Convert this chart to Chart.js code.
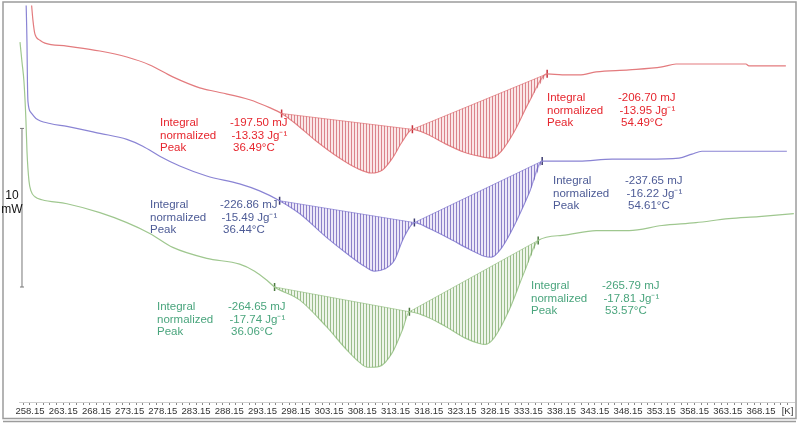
<!DOCTYPE html>
<html>
<head>
<meta charset="utf-8">
<script src="https://cdn.jsdelivr.net/npm/chart.js@4.4.1/dist/chart.umd.min.js"></script>
<style>
  html, body { margin: 0; padding: 0; background: #fff; }
  #wrap { width: 800px; height: 424px; position: relative; }
</style>
</head>
<body>
<div id="wrap"><canvas id="dsc" width="800" height="424"></canvas></div>
<script>
/* DSC thermogram — three runs, two endothermic peaks each */

/* ── Data (temperature in K, heat flow in mW, arbitrary offset) ───────── */

var redTemp  = [258.30, 258.60, 258.90, 259.65, 260.40, 263.71, 268.67, 272.73, 276.18, 279.64,
                283.69, 286.25, 291.21, 294.21, 296.02, 298.27, 301.27, 304.73, 307.29, 309.54,
                311.19, 312.69, 314.20, 315.70, 317.95, 320.51, 323.51, 325.77, 327.57, 329.07,
                331.03, 333.28, 335.98, 338.24, 340.79, 343.35, 348.31, 353.26, 355.37, 358.82,
                365.89, 366.34, 371.90];
var redFlow  = [25.50, 24.06, 23.19, 22.81, 22.63, 22.44, 22.13, 21.75, 21.25, 20.50,
                19.81, 19.56, 19.06, 18.56, 18.19, 17.50, 16.44, 15.38, 14.75, 14.44,
                14.63, 15.38, 16.44, 17.19, 16.88, 16.31, 15.75, 15.50, 15.38, 15.81,
                17.06, 18.94, 20.69, 20.63, 20.63, 20.81, 20.94, 21.13, 21.31, 21.31,
                21.31, 21.19, 21.19];

var blueTemp = [257.55, 257.70, 257.77, 257.85, 258.30, 259.05, 261.16, 263.71, 268.67, 272.73,
                275.13, 277.68, 280.69, 284.75, 289.70, 292.71, 295.72, 298.72, 302.78, 305.78,
                308.49, 309.99, 311.49, 312.99, 314.20, 315.25, 316.00, 318.25, 321.26, 324.26,
                326.52, 327.57, 329.07, 331.03, 333.28, 335.23, 337.34, 340.79, 345.75, 350.86,
                355.82, 357.77, 359.28, 372.05];
var blueFlow = [25.50, 22.69, 20.19, 18.94, 18.25, 17.88, 17.56, 17.38, 16.94, 16.56,
                16.13, 15.50, 14.88, 14.25, 13.75, 13.31, 12.69, 11.88, 10.38, 9.38,
                8.56, 8.25, 8.38, 8.94, 10.19, 11.00, 11.31, 10.94, 10.31, 9.63,
                9.19, 9.13, 9.69, 11.13, 13.19, 15.19, 15.19, 15.19, 15.31, 15.31,
                15.38, 15.63, 15.81, 15.81];

var greenTemp = [256.65, 256.95, 257.25, 257.55, 257.70, 258.00, 258.30, 258.90, 259.95, 263.71,
                 268.67, 272.73, 276.18, 279.64, 284.75, 289.70, 291.96, 293.76, 294.96, 298.72,
                 302.78, 305.78, 307.74, 308.94, 310.74, 312.69, 314.20, 315.25, 317.50, 320.51,
                 323.51, 325.77, 326.67, 328.02, 330.27, 332.53, 334.63, 338.24, 343.35, 348.31,
                 353.26, 358.37, 363.33, 367.84, 373.10];
var greenFlow = [22.69, 21.44, 20.19, 17.69, 15.81, 13.94, 13.31, 12.94, 12.75, 12.50,
                 11.94, 11.31, 10.63, 9.75, 9.06, 8.69, 8.25, 7.69, 7.25, 6.44,
                 4.75, 3.31, 2.50, 2.19, 2.25, 3.13, 4.56, 5.69, 5.44, 4.81,
                 4.06, 3.69, 3.63, 4.06, 5.81, 8.19, 10.19, 10.50, 10.81, 10.81,
                 11.13, 11.31, 11.56, 11.69, 11.88];

// integration baselines: onset, split point, end
var redBaseTemp   = [296.02, 315.70, 335.98];
var redBaseFlow   = [18.19, 17.19, 20.69];
var blueBaseTemp  = [295.72, 316.00, 335.23];
var blueBaseFlow  = [12.69, 11.31, 15.19];
var greenBaseTemp = [294.96, 315.25, 334.63];
var greenBaseFlow = [7.25, 5.69, 10.19];

// 10 mW scale bar
var scaleBarTemp = [256.95, 256.95];
var scaleBarFlow = [7.25, 17.25];

var tickLabels = ['258.15', '263.15', '268.15', '273.15', '278.15', '283.15', '288.15', '293.15',
                  '298.15', '303.15', '308.15', '313.15', '318.15', '323.15', '328.15', '333.15',
                  '338.15', '343.15', '348.15', '353.15', '358.15', '363.15', '368.15'];
var unitLabel  = '[K]';

var noteRows         = ['Integral', 'normalized', 'Peak'];
var redNotesLeft     = ['-197.50 mJ', '-13.33 Jg\u207B\u00B9', '36.49\u00B0C'];
var redNotesRight    = ['-206.70 mJ', '-13.95 Jg\u207B\u00B9', '54.49\u00B0C'];
var blueNotesLeft    = ['-226.86 mJ', '-15.49 Jg\u207B\u00B9', '36.44\u00B0C'];
var blueNotesRight   = ['-237.65 mJ', '-16.22 Jg\u207B\u00B9', '54.61\u00B0C'];
var greenNotesLeft   = ['-264.65 mJ', '-17.74 Jg\u207B\u00B9', '36.06\u00B0C'];
var greenNotesRight  = ['-265.79 mJ', '-17.81 Jg\u207B\u00B9', '53.57\u00B0C'];

/* ── Helpers ──────────────────────────────────────────────────────────── */

var FONT = '"Liberation Sans", Arial, sans-serif';

function pts(t, f) {
  return t.map(function (x, i) { return { x: x, y: f[i] }; });
}

// curve points lying inside the integration window
function region(t, f, bt) {
  return pts(t, f).filter(function (p) { return p.x >= bt[0] - 1e-6 && p.x <= bt[2] + 1e-6; });
}

function hatch(line, tint) {
  var c = document.createElement('canvas');
  c.width = 3; c.height = 4;
  var g = c.getContext('2d');
  g.fillStyle = tint; g.fillRect(0, 0, 3, 4);
  g.fillStyle = line; g.fillRect(0, 0, 1, 4);
  return g.createPattern(c, 'repeat');
}

var tickValues = [];
for (var t = 257.15; t <= 372.16; t += 1) tickValues.push(+t.toFixed(2));

/* ── Datasets ─────────────────────────────────────────────────────────── */

var RED = '#e37b7e', BLUE = '#8a84d4', GREEN = '#9fc78f';

function fillSet(t, f, bt, pattern) {
  return { data: region(t, f, bt), borderWidth: 0, pointRadius: 0, fill: '+1',
           backgroundColor: pattern, cubicInterpolationMode: 'monotone' };
}
function baseSet(bt, bf, color) {
  return { data: pts(bt, bf), borderColor: color, borderWidth: 0.8, pointRadius: 0,
           tension: 0, fill: false };
}
function curveSet(t, f, color) {
  return { data: pts(t, f), borderColor: color, borderWidth: 1.2, pointRadius: 0,
           cubicInterpolationMode: 'monotone', fill: false };
}
function markSet(bt, bf, color) {
  return { data: pts(bt, bf), showLine: false, pointStyle: 'line', rotation: 90,
           pointRadius: 4, borderColor: color, borderWidth: 1.5, fill: false };
}

var datasets = [
  fillSet(redTemp, redFlow, redBaseTemp, hatch('rgba(205,90,100,0.7)', 'rgba(240,185,185,0.35)')),
  baseSet(redBaseTemp, redBaseFlow, RED),
  fillSet(blueTemp, blueFlow, blueBaseTemp, hatch('rgba(110,95,185,0.75)', 'rgba(200,190,235,0.35)')),
  baseSet(blueBaseTemp, blueBaseFlow, BLUE),
  fillSet(greenTemp, greenFlow, greenBaseTemp, hatch('rgba(120,165,100,0.7)', 'rgba(205,225,195,0.35)')),
  baseSet(greenBaseTemp, greenBaseFlow, GREEN),
  curveSet(redTemp, redFlow, RED),
  curveSet(blueTemp, blueFlow, BLUE),
  curveSet(greenTemp, greenFlow, GREEN),
  markSet(redBaseTemp, redBaseFlow, '#c8323c'),
  markSet(blueBaseTemp, blueBaseFlow, '#3c3c70'),
  markSet(greenBaseTemp, greenBaseFlow, '#4c7a40'),
  { data: pts(scaleBarTemp, scaleBarFlow), borderColor: '#777', borderWidth: 1, tension: 0,
    pointStyle: 'line', pointRadius: 2, pointBorderColor: '#777', clip: false, fill: false }
];

/* ── Plugins: frame, scale bar caption, peak notes ────────────────────── */

var notes = [
  { color: '#e6262e', x0: 160, x1: 230, y0: 123, vals: redNotesLeft },
  { color: '#e6262e', x0: 547, x1: 618, y0: 98,  vals: redNotesRight },
  { color: '#4d5b96', x0: 150, x1: 220, y0: 205, vals: blueNotesLeft },
  { color: '#4d5b96', x0: 553, x1: 625, y0: 181, vals: blueNotesRight },
  { color: '#4aa57d', x0: 157, x1: 228, y0: 307, vals: greenNotesLeft },
  { color: '#4aa57d', x0: 531, x1: 602, y0: 286, vals: greenNotesRight }
];

var decorPlugin = {
  id: 'decor',
  afterDraw: function (chart) {
    var ctx = chart.ctx;
    ctx.save();
    // frame
    ctx.strokeStyle = '#9c9c9c';
    ctx.lineWidth = 1.5;
    ctx.strokeRect(3, 2, 793, 416.5);
    ctx.beginPath(); ctx.moveTo(3, 421.5); ctx.lineTo(796, 421.5); ctx.stroke();

    // scale bar caption
    ctx.fillStyle = '#111';
    ctx.font = '12px ' + FONT;
    ctx.textAlign = 'center';
    ctx.textBaseline = 'middle';
    ctx.fillText('10', 12, 196);
    ctx.fillText('mW', 12, 210);

    // peak notes
    ctx.font = '11.5px ' + FONT;
    ctx.textAlign = 'left';
    notes.forEach(function (n) {
      ctx.fillStyle = n.color;
      noteRows.forEach(function (row, i) {
        var y = n.y0 + i * 12.5;
        ctx.fillText(row, n.x0, y);
        ctx.fillText(n.vals[i], n.x1 + i * 1.5, y);
      });
    });
    ctx.restore();
  }
};

/* ── Chart ────────────────────────────────────────────────────────────── */

new Chart(document.getElementById('dsc'), {
  type: 'line',
  data: { datasets: datasets },
  options: {
    responsive: false,
    animation: false,
    layout: { padding: { left: 19, right: 4, top: 3, bottom: 5.6 } },
    plugins: {
      legend: { display: false },
      tooltip: { enabled: false },
      filler: { propagate: false }
    },
    scales: {
      x: {
        type: 'linear',
        min: 256.5,
        max: 373.2,
        afterBuildTicks: function (scale) {
          scale.ticks = tickValues.map(function (v) { return { value: v }; });
        },
        ticks: {
          autoSkip: false,
          maxRotation: 0,
          minRotation: 0,
          padding: 1,
          color: '#333',
          font: { size: 9.5, family: FONT },
          callback: function (value) {
            var s = Number(value).toFixed(2);
            if (tickLabels.indexOf(s) >= 0) return s;
            if (Math.abs(value - 372.15) < 0.01) return unitLabel;
            return '';
          }
        },
        grid: { drawOnChartArea: false, drawTicks: true, tickLength: 3, color: '#888' },
        border: { display: true, color: '#cfcfcf' }
      },
      y: { type: 'linear', display: false, min: 0, max: 25 }
    }
  },
  plugins: [decorPlugin]
});
</script>
</body>
</html>
